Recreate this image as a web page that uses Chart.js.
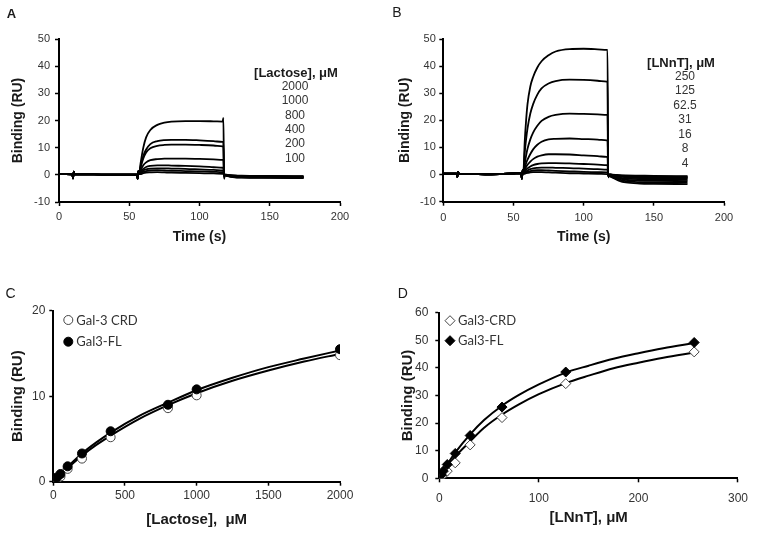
<!DOCTYPE html>
<html>
<head>
<meta charset="utf-8">
<script src="https://cdn.jsdelivr.net/npm/chart.js@4/dist/chart.umd.min.js"></script>
<style>
body { margin: 0; background: #fff; width: 757px; height: 533px; position: relative; overflow: hidden; font-family: "Liberation Sans", Arial, sans-serif; }
canvas { position: absolute; }
.txt { position: absolute; transform: translate(-50%, -50%); white-space: nowrap; color: #1a1a1a; line-height: 1; }
.panel { font-size: 14px; }
.conc { font-size: 12px; color: #333; }
.conc-title { font-size: 13px; font-weight: bold; }
</style>
</head>
<body>
<canvas id="chartA" width="378" height="265" style="left:0;top:0"></canvas>
<canvas id="chartB" width="379" height="265" style="left:378px;top:0"></canvas>
<canvas id="chartC" width="378" height="253" style="left:0;top:280px"></canvas>
<canvas id="chartD" width="379" height="253" style="left:378px;top:280px"></canvas>
<div id="notes"></div>
<script>
// ---- sensorgrams (A: lactose, B: LNnT) ----
const lactoseLabels = ['2000', '1000', '800', '400', '200', '100'];
const lnntLabels = ['250', '125', '62.5', '31', '16', '8', '4'];

const baseTime = [0, 5, 9.5, 10, 10.5, 11, 20, 30, 40, 50, 55.5, 56, 56.5, 57];
const baseA = [0.3, 0.3, 0.2, -1.3, 1.2, 0.2, 0.2, 0.1, 0.1, 0.1, 0.1, -1.4, 1.4, 0.3];
const baseB = [0.3, 0.3, 0.3, -0.8, 1.0, 0.3, 0.2, 0.1, 0.2, 0.4, 0.5, -1.5, 1.5, 0.5];

const assocTimeA = [58, 60, 62, 65, 70, 75, 80, 90, 100, 110, 116.5, 117];
const assocA = [
    [4, 10, 13.8, 16.5, 18.4, 19.2, 19.6, 19.8, 19.8, 19.7, 19.6, 21],
    [3, 7, 9.3, 11.3, 12.4, 12.8, 12.9, 12.9, 12.7, 12.4, 12.1, 12.1],
    [2.5, 6, 8.2, 9.8, 10.7, 11, 11.1, 11.1, 11, 10.8, 10.5, 10.5],
    [1.5, 3.5, 4.6, 5.4, 5.8, 6, 6, 6, 5.9, 5.7, 5.5, 5.5],
    [1, 2.2, 2.9, 3.3, 3.5, 3.5, 3.4, 3.3, 3.1, 2.8, 2.6, 2.6],
    [0.7, 1.6, 2, 2.3, 2.4, 2.4, 2.3, 2.2, 2, 1.8, 1.6, 1.6],
    [0.5, 1.1, 1.4, 1.6, 1.7, 1.6, 1.5, 1.4, 1.3, 1.1, 1, 1],
    [0.3, 0.6, 0.8, 0.9, 1, 0.9, 0.8, 0.7, 0.6, 0.5, 0.4, 0.4]
];
const dissTimeA = [117.5, 118, 120, 125, 130, 150, 174];
const dissA = [
    [-1.5, -0.2, -0.5, -0.9, -1, -1.1, -1.2],
    [-1, -0.1, -0.4, -0.8, -0.9, -1, -1.1],
    [-0.8, 0, -0.4, -0.7, -0.8, -0.9, -1],
    [-0.6, 0, -0.3, -0.6, -0.7, -0.8, -0.9],
    [-0.4, 0, -0.2, -0.5, -0.6, -0.7, -0.8],
    [-0.3, 0.1, -0.2, -0.4, -0.5, -0.6, -0.7],
    [-0.2, 0.1, -0.1, -0.3, -0.4, -0.5, -0.6],
    [-0.1, 0.1, 0, -0.2, -0.3, -0.4, -0.5]
];

const assocTimeB = [58, 59, 60, 62, 64, 67, 70, 75, 80, 90, 100, 110, 116.5, 117];
const assocB = [
    [12, 20, 26, 32.5, 36, 39.5, 41.8, 44, 45.4, 46.3, 46.4, 46.2, 46, 46],
    [8, 13, 17, 22.5, 26, 29.5, 31.8, 33.6, 34.5, 35, 34.9, 34.6, 34.3, 34.3],
    [4, 7, 9.5, 13, 15.5, 18, 19.8, 21.3, 22, 22.5, 22.4, 22.2, 22, 22],
    [2.5, 4.2, 5.5, 7.6, 9.3, 11, 12.1, 13, 13.2, 13.3, 13.1, 12.9, 12.6, 12.6],
    [1.8, 2.8, 3.6, 4.8, 5.7, 6.6, 7.1, 7.5, 7.5, 7.4, 7.1, 6.8, 6.5, 6.5],
    [1.2, 1.8, 2.3, 3, 3.5, 3.9, 4.1, 4.2, 4.2, 4.1, 3.9, 3.7, 3.5, 3.5],
    [0.8, 1.2, 1.5, 2, 2.3, 2.5, 2.6, 2.6, 2.5, 2.4, 2.2, 2, 1.8, 1.8],
    [0.5, 0.8, 1, 1.3, 1.5, 1.6, 1.6, 1.5, 1.4, 1.2, 1, 0.9, 0.8, 0.8],
    [0.3, 0.5, 0.6, 0.8, 0.9, 0.9, 0.9, 0.8, 0.7, 0.5, 0.4, 0.3, 0.2, 0.2]
];
const dissTimeB = [117.5, 118, 120, 125, 130, 140, 150, 174];
const dissB = [
    [-1, -0.5, -1, -2.2, -2.9, -3.3, -3.4, -3.5],
    [-1, -0.4, -0.8, -1.8, -2.4, -2.8, -2.9, -3],
    [-0.8, -0.3, -0.6, -1.4, -1.9, -2.2, -2.3, -2.4],
    [-0.6, -0.2, -0.4, -1, -1.4, -1.7, -1.8, -1.9],
    [-0.5, -0.1, -0.3, -0.7, -1, -1.3, -1.4, -1.5],
    [-0.4, 0, -0.2, -0.5, -0.8, -1, -1.1, -1.2],
    [-0.3, 0, -0.1, -0.4, -0.6, -0.8, -0.9, -1],
    [-0.2, 0.1, 0, -0.3, -0.5, -0.6, -0.7, -0.8],
    [-0.2, 0.1, 0, -0.2, -0.3, -0.4, -0.5, -0.6]
];

// ---- saturation plots (C: lactose, D: LNnT) ----
const lactosePts = [0, 12.5, 25, 50, 100, 200, 400, 800, 1000, 2000];
const crdLacPts = [0, 0.1, 0.3, 0.6, 1.5, 2.7, 5.2, 8.6, 10.1, 14.8];
const flLacPts = [0, 0.2, 0.5, 0.9, 1.8, 3.3, 5.9, 9.0, 10.8, 15.5];
const lactoseFitX = [0, 50, 100, 200, 300, 400, 600, 800, 1000, 1250, 1500, 1750, 2000];
const crdLacFit = [0, 0.8, 1.6, 3.05, 4.3, 5.4, 7.35, 8.95, 10.35, 11.8, 13.0, 14.05, 14.95];
const flLacFit = [0, 0.9, 1.75, 3.3, 4.6, 5.75, 7.7, 9.25, 10.7, 12.15, 13.4, 14.4, 15.35];

const lnntPts = [0, 2, 4, 8, 16, 31, 63, 127, 256];
const crdLnntPts = [0, 0.5, 1.2, 2.6, 5.6, 12.1, 22.0, 34.3, 45.8];
const flLnntPts = [0, 1.2, 2.6, 5.0, 9.0, 15.5, 25.8, 38.5, 49.2];
const lnntFitX = [0, 4, 8, 16, 31, 45, 63, 80, 100, 127, 150, 175, 200, 225, 256];
const crdLnntFit = [0, 2.2, 4.2, 7.9, 13.4, 18.3, 23.1, 26.8, 30.5, 34.5, 37.2, 39.9, 41.9, 43.7, 45.6];
const flLnntFit = [0, 2.6, 5.0, 9.3, 15.9, 21.1, 26.3, 30.2, 34.0, 38.3, 40.8, 43.3, 45.3, 47.1, 49.0];

const FONT = "'Liberation Sans', Arial, sans-serif";

function pairs(xs, ys) {
    return xs.map((x, i) => ({ x: x, y: ys[i] }));
}

function sensorgram(base, assocTime, assoc, dissTime, diss) {
    return assoc.map((vals, i) => ({
        data: pairs(baseTime, base).concat(pairs(assocTime, vals), pairs(dissTime, diss[i])),
        showLine: true,
        borderColor: '#000',
        borderWidth: 1.8,
        pointRadius: 0,
        cubicInterpolationMode: 'monotone'
    }));
}

function axis(cfg) {
    return {
        type: 'linear',
        min: cfg.min,
        max: cfg.max,
        ticks: {
            stepSize: cfg.step,
            color: '#333',
            font: { family: FONT, size: cfg.tickSize },
            padding: cfg.tickPad,
            maxRotation: 0,
            autoSkip: false,
            callback: v => String(v)
        },
        grid: { drawOnChartArea: false, drawTicks: true, tickLength: 4, tickWidth: 1.5, color: '#000' },
        border: { display: true, color: '#000', width: 2 },
        title: {
            display: true,
            text: cfg.title,
            color: '#1a1a1a',
            font: { family: FONT, size: cfg.titleSize, weight: 'bold' },
            padding: cfg.titlePad
        },
        afterFit: s => {
            if (s.isHorizontal()) s.height = cfg.size; else s.width = cfg.size;
        }
    };
}

// small legend drawn inside the plot area (panels C and D)
const innerLegend = {
    id: 'innerLegend',
    afterDatasetsDraw(chart, args, opts) {
        if (!opts.items) return;
        const ctx = chart.ctx;
        ctx.save();
        opts.items.forEach(it => {
            const ds = chart.data.datasets[it.dataset];
            const r = ds.pointRadius;
            ctx.beginPath();
            if (ds.pointStyle === 'rectRot') {
                ctx.moveTo(it.x, it.y - r);
                ctx.lineTo(it.x + r, it.y);
                ctx.lineTo(it.x, it.y + r);
                ctx.lineTo(it.x - r, it.y);
                ctx.closePath();
            } else {
                ctx.arc(it.x, it.y, r, 0, Math.PI * 2);
            }
            ctx.fillStyle = ds.backgroundColor;
            ctx.fill();
            ctx.lineWidth = ds.borderWidth;
            ctx.strokeStyle = ds.borderColor;
            ctx.stroke();
            ctx.fillStyle = '#333';
            ctx.font = opts.font;
            ctx.textAlign = 'left';
            ctx.textBaseline = 'middle';
            ctx.fillText(ds.label, it.x + opts.gap, it.y + 0.5);
        });
        ctx.restore();
    }
};
Chart.register(innerLegend);

function baseOptions(layoutPad, xCfg, yCfg, legend) {
    return {
        responsive: false,
        animation: false,
        events: [],
        layout: { padding: layoutPad },
        plugins: { legend: { display: false }, tooltip: { enabled: false }, innerLegend: legend || {} },
        scales: { x: axis(xCfg), y: axis(yCfg) }
    };
}

new Chart(document.getElementById('chartA'), {
    type: 'scatter',
    data: { datasets: sensorgram(baseA, assocTimeA, assocA, dissTimeA, dissA) },
    options: baseOptions(
        { top: 39, left: 0, right: 38, bottom: 13 },
        { min: 0, max: 200, step: 50, tickSize: 11, tickPad: 4, title: 'Time (s)', titleSize: 14, titlePad: { top: 0, bottom: 6.6 }, size: 50 },
        { min: -10, max: 50, step: 10, tickSize: 11, tickPad: 5, title: 'Binding (RU)', titleSize: 14, titlePad: { top: 9.4, bottom: 0 }, size: 59 }
    )
});

new Chart(document.getElementById('chartB'), {
    type: 'scatter',
    data: { datasets: sensorgram(baseB, assocTimeB, assocB, dissTimeB, dissB) },
    options: baseOptions(
        { top: 39, left: 0, right: 33, bottom: 13.3 },
        { min: 0, max: 200, step: 50, tickSize: 11, tickPad: 6, title: 'Time (s)', titleSize: 14, titlePad: { top: 0, bottom: 6.3 }, size: 50 },
        { min: -10, max: 50, step: 10, tickSize: 11, tickPad: 3.5, title: 'Binding (RU)', titleSize: 14, titlePad: { top: 18.6, bottom: 0 }, size: 65.3 }
    )
});

function satDatasets(xPts, crdPts, flPts, fitX, crdFit, flFit, style, crdLabel, flLabel) {
    const r = style === 'rectRot' ? 5 : 4.5;
    return [
        { label: flLabel, data: pairs(xPts, flPts), pointStyle: style, pointRadius: r, backgroundColor: '#000', borderColor: '#000', borderWidth: 1 },
        { label: crdLabel, data: pairs(xPts, crdPts), pointStyle: style, pointRadius: r, backgroundColor: '#fff', borderColor: '#444', borderWidth: 1 },
        { data: pairs(fitX, flFit), showLine: true, pointRadius: 0, borderColor: '#000', borderWidth: 2, cubicInterpolationMode: 'monotone' },
        { data: pairs(fitX, crdFit), showLine: true, pointRadius: 0, borderColor: '#000', borderWidth: 2, cubicInterpolationMode: 'monotone' }
    ];
}

new Chart(document.getElementById('chartC'), {
    type: 'scatter',
    data: { datasets: satDatasets(lactosePts, crdLacPts, flLacPts, lactoseFitX, crdLacFit, flLacFit, 'circle', 'Gal-3 CRD', 'Gal3-FL') },
    options: baseOptions(
        { top: 30.7, left: 0, right: 38, bottom: 1.3 },
        { min: 0, max: 2000, step: 500, tickSize: 12, tickPad: 3, title: '[Lactose],  μM', titleSize: 15, titlePad: { top: 0, bottom: 2.7 }, size: 50 },
        { min: 0, max: 20, step: 10, tickSize: 12, tickPad: 4, title: 'Binding (RU)', titleSize: 15, titlePad: { top: 8.5, bottom: 0 }, size: 53.3 },
        { font: "13px Lato, 'Liberation Sans', sans-serif", gap: 8, items: [{ dataset: 1, x: 68.3, y: 40 }, { dataset: 0, x: 68.3, y: 61.7 }] }
    )
});

new Chart(document.getElementById('chartD'), {
    type: 'scatter',
    data: { datasets: satDatasets(lnntPts, crdLnntPts, flLnntPts, lnntFitX, crdLnntFit, flLnntFit, 'rectRot', 'Gal3-CRD', 'Gal3-FL') },
    options: baseOptions(
        { top: 32.7, left: 0, right: 14.3, bottom: 2.7 },
        { min: 0, max: 300, step: 100, tickSize: 12, tickPad: 9, title: '[LNnT], μM', titleSize: 15, titlePad: { top: 0, bottom: 3.8 }, size: 52 },
        { min: 0, max: 60, step: 10, tickSize: 12, tickPad: 7, title: 'Binding (RU)', titleSize: 15, titlePad: { top: 20.5, bottom: 0 }, size: 61.3 },
        { font: "13px Lato, 'Liberation Sans', sans-serif", gap: 8, items: [{ dataset: 1, x: 72, y: 40.7 }, { dataset: 0, x: 72, y: 60.7 }] }
    )
});

// panel letters and concentration lists
const notes = document.getElementById('notes');
function note(text, x, y, cls, extra) {
    const d = document.createElement('div');
    d.className = 'txt ' + cls;
    d.textContent = text;
    d.style.left = x + 'px';
    d.style.top = y + 'px';
    if (extra) Object.assign(d.style, extra);
    notes.appendChild(d);
}
note('A', 11.5, 12.5, 'panel', { fontWeight: 'bold', fontSize: '13px' });
note('B', 397, 12, 'panel');
note('C', 10.5, 293.3, 'panel');
note('D', 402.7, 293, 'panel');

note('[Lactose], μM', 296, 72, 'conc-title');
lactoseLabels.forEach((t, i) => note(t, 295, 86 + i * 14.35, 'conc'));
note('[LNnT], μM', 681, 62, 'conc-title');
lnntLabels.forEach((t, i) => note(t, 685, 76 + i * 14.45, 'conc'));
</script>
</body>
</html>
